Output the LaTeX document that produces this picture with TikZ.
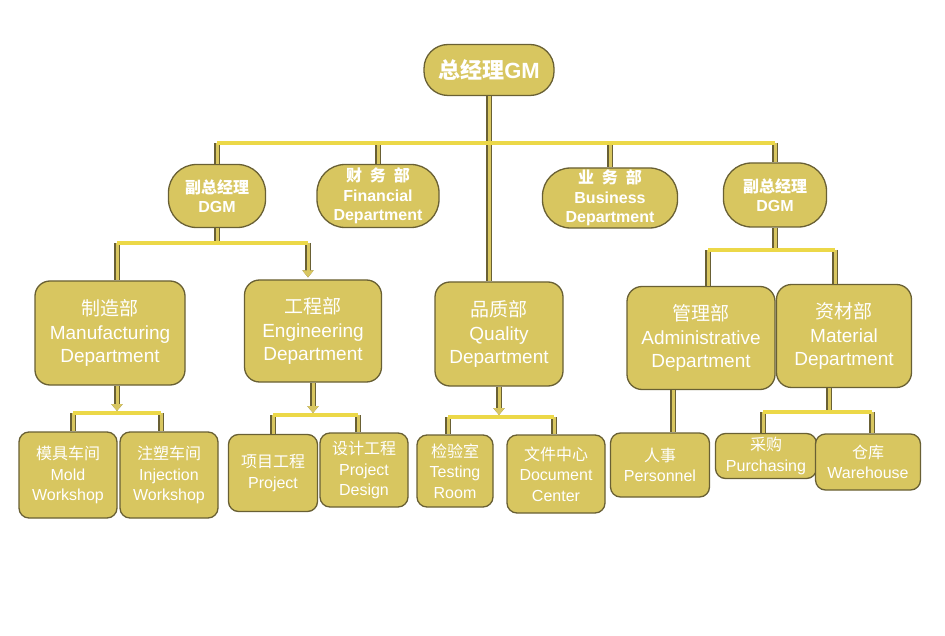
\documentclass[tikz,border=0pt]{standalone}
\usepackage{fontspec}
\setmainfont{Liberation Sans}
\newfontfamily\cjk{Noto Sans CJK SC}
\usetikzlibrary{arrows.meta}
\definecolor{boxc}{RGB}{216,198,96}
\definecolor{edgec}{RGB}{105,96,52}
\definecolor{barc}{RGB}{236,216,72}
\newcommand\cn[1]{{\cjk #1}}
\newcommand\gap{\hspace{0.5em}}

\begin{document}
\begin{tikzpicture}[x=1pt,y=-1pt,
  box/.style={draw=edgec,fill=boxc,line width=1.3pt,text=white,align=center,inner sep=0pt},
  top/.style={box,rounded corners=24pt,font=\bfseries\fontsize{22}{26}\selectfont},
  head/.style={box,rounded corners=28pt,font=\bfseries\fontsize{16}{19.5}\selectfont},
  dept/.style={box,rounded corners=15pt,font=\fontsize{19}{23.5}\selectfont},
  unit/.style={box,rounded corners=10pt,font=\fontsize{16}{20.5}\selectfont},
  stem/.style={draw=boxc,line width=3pt,preaction={draw=edgec,line width=5.4pt}},
  tip/.style={-{Triangle[length=7pt,width=11pt]},shorten >=2pt},
  bar/.style={draw=barc,line width=4pt}]
\path[fill=white] (0,0) rectangle (945,636);
% top and second row
\node[top,minimum width=130pt,minimum height=51pt] (gm) at (489,70) {\cn{总经理}GM};
\node[head,minimum width=97pt,minimum height=63pt] (dgmL) at (217,196) {\cn{副总经理}\\DGM};
\node[head,minimum width=122pt,minimum height=63pt] (fin) at (378,196) {\cn{财\gap 务\gap 部}\\Financial\\Department};
\node[head,minimum width=135pt,minimum height=60pt] (bus) at (610,198) {\cn{业\gap 务\gap 部}\\Business\\Department};
\node[head,minimum width=103pt,minimum height=64pt] (dgmR) at (775,195) {\cn{副总经理}\\DGM};
% departments
\node[dept,minimum width=150pt,minimum height=104pt] (mfg) at (110,333) {\cn{制造部}\\Manufacturing\\Department};
\node[dept,minimum width=137pt,minimum height=102pt] (eng) at (313,331) {\cn{工程部}\\Engineering\\Department};
\node[dept,minimum width=128pt,minimum height=104pt] (qa) at (499,334) {\cn{品质部}\\Quality\\Department};
\node[dept,minimum width=148pt,minimum height=103pt] (adm) at (701,338) {\cn{管理部}\\Administrative\\Department};
\node[dept,minimum width=135pt,minimum height=103pt] (mat) at (844,336) {\cn{资材部}\\Material\\Department};
% units
\node[unit,minimum width=98pt,minimum height=86pt] (mold) at (68,475) {\cn{模具车间}\\Mold\\Workshop};
\node[unit,minimum width=98pt,minimum height=86pt] (inj) at (169,475) {\cn{注塑车间}\\Injection\\Workshop};
\node[unit,minimum width=89pt,minimum height=77pt] (proj) at (273,473) {\cn{项目工程}\\Project};
\node[unit,minimum width=88pt,minimum height=74pt] (pdes) at (364,470) {\cn{设计工程}\\Project\\Design};
\node[unit,minimum width=76pt,minimum height=72pt] (test) at (455,471) {\cn{检验室}\\Testing\\Room};
\node[unit,minimum width=98pt,minimum height=78pt] (doc) at (556,474) {\cn{文件中心}\\Document\\Center};
\node[unit,minimum width=99pt,minimum height=64pt] (pers) at (660,465) {\cn{人事}\\Personnel};
\node[unit,minimum width=101pt,minimum height=45pt] (pur) at (766,456) {\cn{采购}\\Purchasing};
\node[unit,minimum width=105pt,minimum height=56pt] (ware) at (868,462) {\cn{仓库}\\Warehouse};

% GM level
\coordinate (t1) at (217,143);
\coordinate (t2) at (775,143);
\draw[stem] (gm.south) -- (gm.south |- qa.north);
\draw[stem] (t1) -- (dgmL.north);
\draw[stem] (fin.north |- t1) -- (fin.north);
\draw[stem] (bus.north |- t1) -- (bus.north);
\draw[stem] (t2) -- (dgmR.north);
\draw[bar] (t1) -- (t2);
% left DGM
\coordinate (l1) at (117,243);
\coordinate (l2) at (308,243);
\draw[stem] (dgmL.south) -- (dgmL.south |- l1);
\draw[stem] (l1) -- (l1 |- mfg.north);
\draw[stem,tip] (l2) -- (l2 |- eng.north);
\draw[bar] (l1) -- (l2);
% manufacturing
\coordinate (m1) at (73,413);
\coordinate (m2) at (161,413);
\draw[stem,tip] (l1 |- mfg.south) -- (l1 |- m1);
\draw[stem] (m1) -- (m1 |- mold.north);
\draw[stem] (m2) -- (m2 |- inj.north);
\draw[bar] (m1) -- (m2);
% engineering
\coordinate (e1) at (273,415);
\coordinate (e2) at (358,415);
\draw[stem,tip] (eng.south) -- (eng.south |- e1);
\draw[stem] (e1) -- (e1 |- proj.north);
\draw[stem] (e2) -- (e2 |- pdes.north);
\draw[bar] (e1) -- (e2);
% quality
\coordinate (q1) at (448,417);
\coordinate (q2) at (554,417);
\draw[stem,tip] (qa.south) -- (qa.south |- q1);
\draw[stem] (q1) -- (q1 |- test.north);
\draw[stem] (q2) -- (q2 |- doc.north);
\draw[bar] (q1) -- (q2);
% right DGM
\coordinate (r1) at (708,250);
\coordinate (r2) at (835,250);
\draw[stem] (dgmR.south) -- (dgmR.south |- r1);
\draw[stem] (r1) -- (r1 |- adm.north);
\draw[stem] (r2) -- (r2 |- mat.north);
\draw[bar] (r1) -- (r2);
% administrative and material
\coordinate (a1) at (673,390);
\draw[stem] (a1) -- (a1 |- pers.north);
\coordinate (s1) at (829,412);
\coordinate (p1) at (763,412);
\coordinate (p2) at (872,412);
\draw[stem] (s1 |- mat.south) -- (s1);
\draw[stem] (p1) -- (p1 |- pur.north);
\draw[stem] (p2) -- (p2 |- ware.north);
\draw[bar] (p1) -- (p2);
\end{tikzpicture}
\end{document}
